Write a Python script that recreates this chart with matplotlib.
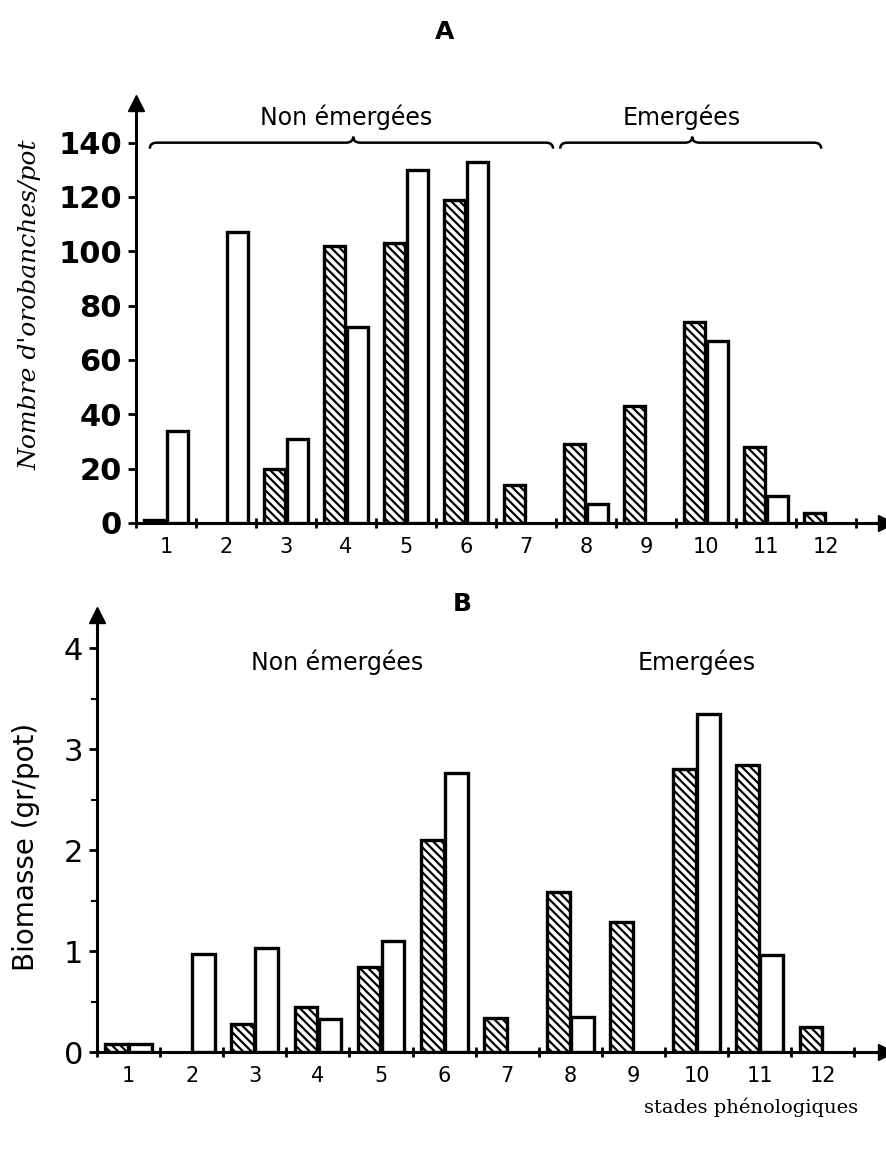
import matplotlib
matplotlib.use("Agg")
import matplotlib.pyplot as plt
import numpy as np
from matplotlib.path import Path
from matplotlib.patches import PathPatch

plt.rcParams['font.family'] = ['DejaVu Sans']
plt.rcParams['hatch.linewidth'] = 1.6

stades = list(range(1, 13))

# A : nombre d'orobanches / pot
nombre_hachure = [1, 0, 20, 102, 103, 119, 14, 29, 43, 74, 28, 3.5]
nombre_blanc = [34, 107, 31, 72, 130, 133, 0, 7, 0, 67, 10, 0]

# B : biomasse (gr/pot)
biomasse_hachure = [0.08, 0, 0.28, 0.45, 0.84, 2.10, 0.34, 1.59, 1.29, 2.80, 2.84, 0.25]
biomasse_blanc = [0.08, 0.97, 1.03, 0.33, 1.10, 2.76, 0, 0.35, 0, 3.35, 0.96, 0]

W = 886
H = 1170
fig = plt.figure(figsize=(W / 100, H / 100), dpi=100)


def px_axes(left, bottom, right, top):
    return fig.add_axes([left / W, 1 - bottom / H, (right - left) / W, (bottom - top) / H])


def draw_bars(ax, hach, blanc):
    x = np.array(stades)
    h = np.array(hach, dtype=float)
    b = np.array(blanc, dtype=float)
    mh = h > 0
    mb = b > 0
    ax.bar(x[mh] - 0.19, h[mh], width=0.36, facecolor='white', edgecolor='black',
           hatch='\\\\\\\\', linewidth=2.4, zorder=3)
    ax.bar(x[mb] + 0.19, b[mb], width=0.36, facecolor='white', edgecolor='black',
           linewidth=2.4, zorder=3)


def style_axes(ax, ymax, yticks, ylab_size, xlab_size, weight):
    ax.set_xlim(0.5, 13.0)
    ax.set_ylim(0, ymax)
    for s in ['top', 'right']:
        ax.spines[s].set_visible(False)
    for s in ['left', 'bottom']:
        ax.spines[s].set_linewidth(2.2)
    ax.set_xticks(np.arange(0.5, 13, 1.0))
    ax.set_xticklabels([])
    ax.set_xticks(stades, minor=True)
    ax.set_xticklabels([str(s) for s in stades], minor=True, fontsize=xlab_size)
    ax.tick_params(axis='x', which='major', direction='inout', length=7, width=2)
    ax.tick_params(axis='x', which='minor', length=0, pad=10)
    ax.set_yticks(yticks)
    ax.set_yticklabels([str(t) for t in yticks], fontsize=ylab_size, fontweight=weight)
    ax.tick_params(axis='y', which='major', direction='out', length=6, width=2, pad=4)
    ax.plot(1, 0, '>', color='black', ms=11, transform=ax.transAxes, clip_on=False)
    ax.plot(0, 1, '^', color='black', ms=11, transform=ax.transAxes, clip_on=False)


def brace(ax, x0, x1, xm, y, d, r):
    verts = [(x0, y - d), (x0, y), (x0 + r, y), (xm - r, y), (xm, y), (xm, y + d),
             (xm, y), (xm + r, y), (x1 - r, y), (x1, y), (x1, y - d)]
    codes = [Path.MOVETO, Path.CURVE3, Path.CURVE3, Path.LINETO, Path.CURVE3, Path.CURVE3,
             Path.CURVE3, Path.CURVE3, Path.LINETO, Path.CURVE3, Path.CURVE3]
    ax.add_patch(PathPatch(Path(verts, codes), facecolor='none', edgecolor='black',
                           linewidth=1.8, clip_on=False))


# ---- panel A
axA = px_axes(136, 523, 886, 103)
draw_bars(axA, nombre_hachure, nombre_blanc)
style_axes(axA, 154.6, [0, 20, 40, 60, 80, 100, 120, 140], 22, 15, 'bold')
brace(axA, 0.73, 7.45, 4.12, 140, 2.2, 0.12)
brace(axA, 7.57, 11.92, 9.77, 140, 2.2, 0.12)
axA.text(4.0, 149.5, 'Non émergées', ha='center', va='center', fontsize=17)
axA.text(9.6, 149.5, 'Emergées', ha='center', va='center', fontsize=17)
fig.text(445 / W, 1 - 32 / H, 'A', ha='center', va='center', fontsize=18, fontweight='bold')
fig.text(30 / W, 1 - 305 / H, "Nombre d'orobanches/pot", rotation=90, ha='center', va='center',
         fontsize=18, family='DejaVu Serif', style='italic')

# ---- panel B
axB = px_axes(97, 1052, 886, 615)
draw_bars(axB, biomasse_hachure, biomasse_blanc)
style_axes(axB, 4.33, [0, 1, 2, 3, 4], 22, 15, 'normal')
axB.set_yticks(np.arange(0.5, 4.0, 1.0), minor=True)
axB.tick_params(axis='y', which='minor', direction='out', length=4, width=1.5)
axB.text(4.31, 3.86, 'Non émergées', ha='center', va='center', fontsize=17)
axB.text(10.0, 3.86, 'Emergées', ha='center', va='center', fontsize=17)
fig.text(462 / W, 1 - 604 / H, 'B', ha='center', va='center', fontsize=18, fontweight='bold')
fig.text(26 / W, 1 - 847 / H, 'Biomasse (gr/pot)', rotation=90, ha='center', va='center',
         fontsize=20)
fig.text(751 / W, 1 - 1107 / H, 'stades phénologiques', ha='center', va='center',
         fontsize=14, family='DejaVu Serif')

fig.savefig('out.png', dpi=100)
